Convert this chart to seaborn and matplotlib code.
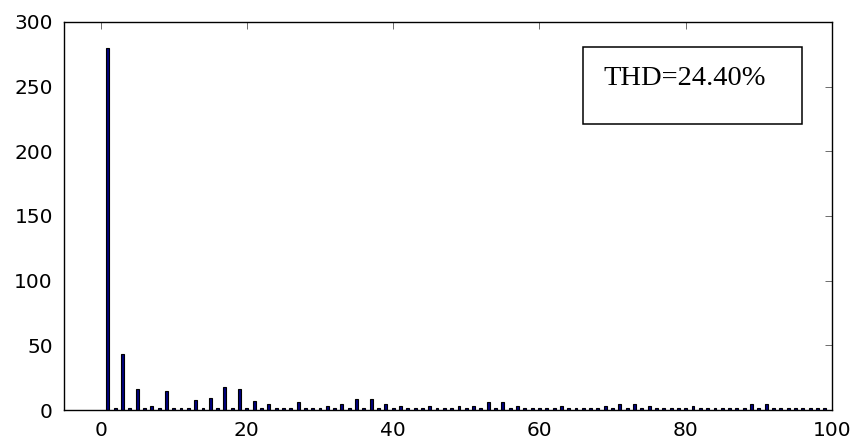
import numpy as np
import pandas as pd
import matplotlib
matplotlib.use("Agg")
import matplotlib.pyplot as plt
from matplotlib.patches import Rectangle
import seaborn as sns

# Harmonic orders and amplitudes
orders = list(range(1, 100))
amplitudes = [
    280, 1.5, 43, 1.5, 16, 1.5, 3, 1.5, 14.5, 1.5,      # 1-10
    1.5, 1.5, 7.5, 1.5, 9, 1.5, 17.5, 1.5, 16, 1.5,     # 11-20
    7.2, 1.5, 4.6, 1.5, 1.5, 1.5, 6, 1.5, 1.5, 1.5,     # 21-30
    3, 1.5, 4.4, 1.5, 8.8, 1.5, 8.8, 1.5, 4.6, 1.5,     # 31-40
    3, 1.5, 1.5, 1.5, 3, 1.5, 1.5, 1.5, 3, 1.5,         # 41-50
    3, 1.5, 6, 1.5, 6, 1.5, 3, 1.5, 1.5, 1.5,           # 51-60
    1.5, 1.5, 3, 1.5, 1.5, 1.5, 1.5, 1.5, 3, 1.5,       # 61-70
    4.6, 1.5, 4.6, 1.5, 3, 1.5, 1.5, 1.5, 1.5, 1.5,     # 71-80
    3, 1.5, 1.5, 1.5, 1.5, 1.5, 1.5, 1.5, 4.6, 1.5,     # 81-90
    4.6, 1.5, 1.5, 1.5, 1.5, 1.5, 1.5, 1.5, 1.5,        # 91-99
]
x_ticks = [0, 20, 40, 60, 80, 100]
y_ticks = [0, 50, 100, 150, 200, 250, 300]
thd_label = "THD=24.40%"

df = pd.DataFrame({"order": orders, "amp": amplitudes})

sns.set_style("white")
plt.rcParams["font.family"] = ["DejaVu Sans"]
plt.rcParams["text.color"] = "black"
plt.rcParams["xtick.color"] = "black"
plt.rcParams["ytick.color"] = "black"
plt.rcParams["axes.labelcolor"] = "black"

fig = plt.figure(figsize=(8.61, 4.47), dpi=100)
ax = fig.add_axes([64 / 861, 1 - 410 / 447, 768 / 861, 388 / 447])

sns.barplot(data=df, x="order", y="amp", native_scale=True, width=0.4,
            color="#000080", saturation=1, edgecolor="black", linewidth=0.8,
            errorbar=None, ax=ax)

ax.set_xlim(-5, 100)
ax.set_ylim(0, 300)
ax.set_xticks(x_ticks)
ax.set_yticks(y_ticks)
ax.set_xticklabels([str(v) for v in x_ticks])
ax.set_yticklabels([str(v) for v in y_ticks])
ax.set_xlabel("")
ax.set_ylabel("")
ax.tick_params(direction="in", length=5, width=0.6, color="#555555",
               labelcolor="black", top=True, right=True, labelsize=14.5, pad=8)
for s in ax.spines.values():
    s.set_visible(True)
    s.set_color("black")
    s.set_linewidth(1.0)

# THD annotation box
ax.add_patch(Rectangle((0.6758, 0.7371), 0.9609 - 0.6758, 0.9356 - 0.7371,
                       transform=ax.transAxes, fill=False, edgecolor="black",
                       linewidth=1.1, zorder=5))
ax.text(0.7018, 0.8376, thd_label, transform=ax.transAxes, ha="left",
        va="baseline", fontsize=20.5, color="black",
        family=["Liberation Serif"], zorder=6)

fig.savefig("out.png", dpi=100)
